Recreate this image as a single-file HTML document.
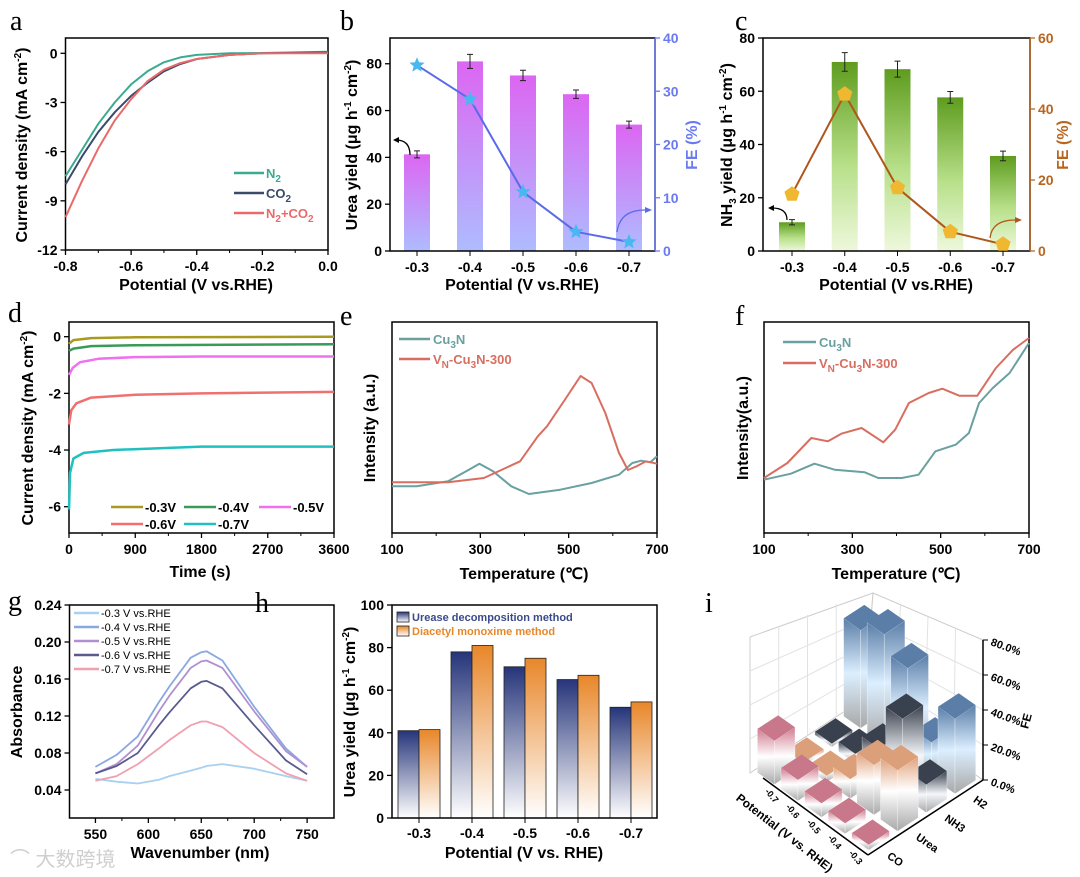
<!DOCTYPE html>
<html><head><meta charset="utf-8"><style>
html,body{margin:0;padding:0;background:#fff;}
svg{display:block;font-family:"Liberation Sans",Arial,sans-serif;}
</style></head><body>
<svg id="fig" width="1080" height="877" viewBox="0 0 1080 877" xmlns="http://www.w3.org/2000/svg">
<defs>
<linearGradient id="gB" x1="0" y1="0" x2="0" y2="1"><stop offset="0" stop-color="#dc66f2"/><stop offset="1" stop-color="#aebcff"/></linearGradient>
<linearGradient id="gC" x1="0" y1="0" x2="0" y2="1"><stop offset="0" stop-color="#5e9c1e"/><stop offset="0.55" stop-color="#b8e08a"/><stop offset="1" stop-color="#eef8dc"/></linearGradient>
<linearGradient id="gU" x1="0" y1="0" x2="0" y2="1"><stop offset="0" stop-color="#26357a"/><stop offset="1" stop-color="#ffffff"/></linearGradient>
<linearGradient id="gD" x1="0" y1="0" x2="0" y2="1"><stop offset="0" stop-color="#e8872a"/><stop offset="1" stop-color="#ffffff"/></linearGradient>
<linearGradient id="sH2" x1="0" y1="0" x2="0" y2="1"><stop offset="0" stop-color="#5b7ea8"/><stop offset="0.5" stop-color="#dcefff"/><stop offset="1" stop-color="#a8a8a8"/></linearGradient>
<linearGradient id="sNH3" x1="0" y1="0" x2="0" y2="1"><stop offset="0" stop-color="#3a414e"/><stop offset="0.55" stop-color="#f4f6fa"/><stop offset="1" stop-color="#a8a8a8"/></linearGradient>
<linearGradient id="sUrea" x1="0" y1="0" x2="0" y2="1"><stop offset="0" stop-color="#e0a27c"/><stop offset="0.45" stop-color="#ffffff"/><stop offset="1" stop-color="#a8a8a8"/></linearGradient>
<linearGradient id="sCO" x1="0" y1="0" x2="0" y2="1"><stop offset="0" stop-color="#d07c90"/><stop offset="0.5" stop-color="#ffffff"/><stop offset="1" stop-color="#a8a8a8"/></linearGradient>
</defs>
</svg>
<script>
// ---------- data ----------
const aX=[-0.8,-0.75,-0.7,-0.65,-0.6,-0.55,-0.5,-0.45,-0.4,-0.3,-0.2,0];
const aN2=[-7.5,-5.9,-4.3,-3.0,-1.9,-1.1,-0.55,-0.25,-0.1,0,0.02,0.1];
const aCO2=[-8,-6.3,-4.8,-3.6,-2.6,-1.8,-1.1,-0.65,-0.35,-0.1,0,0.05];
const aMix=[-10,-7.8,-5.8,-4.1,-2.8,-1.7,-1.0,-0.6,-0.35,-0.1,0,0];
const pots=["-0.3","-0.4","-0.5","-0.6","-0.7"];
const ureaYield=[41.3,81,75,67,54];
const ureaErr=[1.5,3,2.2,1.8,1.5];
const ureaFE=[34.9,28.5,11.1,3.6,1.7];
const nh3Yield=[10.8,71,68.3,57.7,35.7];
const nh3Err=[1,3.5,3,2.2,1.8];
const nh3FE=[16,44.2,17.8,5.4,1.9];
const dT=[[0,60,300,900,3600],[0,60,300,900,3600],[0,50,150,400,900,1800,3600],[0,30,100,300,900,1800,3600],[0,15,60,200,600,1800,3600]];
const dJ=[[-0.25,-0.12,-0.05,-0.02,0],[-0.5,-0.42,-0.33,-0.3,-0.27],[-1.35,-1.1,-0.9,-0.78,-0.72,-0.7,-0.7],[-3.1,-2.6,-2.35,-2.15,-2.05,-2.0,-1.95],[-6.1,-4.8,-4.3,-4.1,-4.0,-3.88,-3.88]];
const dLabels=["-0.3V","-0.4V","-0.5V","-0.6V","-0.7V"];
const eCuT=[100,156,227,268,298,329,370,410,481,552,614,644,664,685,700];
const eCuI=[46.7,46.7,51.7,61.7,69.3,61.7,46.7,39,43.3,50,58.3,70,72.3,70.7,76.7];
const eVT=[100,227,308,390,430,451,491,527,552,583,614,634,654,675,700];
const eVI=[50.7,50.7,55,71.7,96.7,106.7,133,157,150,120,80,63,66.7,71.7,69.3];
const fCuT=[100,161,214,260,328,359,412,450,488,534,564,587,618,656,700];
const fCuI=[53.3,59.3,69.3,63.3,60.7,55,55,58.3,81.7,88.3,100,130,145,160,190];
const fVT=[100,153,207,245,275,321,370,397,428,473,504,542,583,625,664,700];
const fVI=[55,70,95,91.7,99.3,105,90.7,103.3,130,140,144.3,137.3,137.3,165,183.3,195];
const gW=[550,570,590,610,620,640,650,655,670,700,730,750];
const gA=[
 [0.052,0.049,0.047,0.051,0.055,0.061,0.064,0.066,0.068,0.063,0.055,0.050],
 [0.065,0.078,0.098,0.135,0.152,0.183,0.189,0.190,0.180,0.130,0.085,0.065],
 [0.058,0.068,0.088,0.125,0.142,0.172,0.179,0.180,0.172,0.125,0.082,0.065],
 [0.058,0.066,0.080,0.110,0.124,0.150,0.157,0.158,0.150,0.110,0.072,0.057],
 [0.050,0.055,0.068,0.085,0.094,0.110,0.114,0.114,0.108,0.080,0.058,0.050]];
const gLabels=["-0.3 V vs.RHE","-0.4 V vs.RHE","-0.5 V vs.RHE","-0.6 V vs.RHE","-0.7 V vs.RHE"];
const hUrease=[41,78,71,65,52];
const hDiacetyl=[41.5,81,75,67,54.5];
const iSpecies=["CO","Urea","NH3","H2"];
const iCO=[3,6,8,12,25];
const iUrea=[34.9,28.5,11.1,3.6,1.7];
const iNH3=[16,44.2,17.8,5.4,1.9];
const iH2=[43,20,53,63,56];

// ---------- helpers ----------
const NS='http://www.w3.org/2000/svg';
const svg=document.getElementById('fig');
function mk(tag,a,name,parent){
  const e=document.createElementNS(NS,tag);
  for(const k in a) e.setAttribute(k,a[k]);
  
  
  (parent||svg).appendChild(e);return e;
}
function tx(x,y,html,name,o){
  o=o||{};
  const e=mk('text',{x:x,y:y,'font-size':o.fs||14,'font-weight':o.fw||'bold','text-anchor':o.anchor||'middle',fill:o.fill||'#000','font-family':o.ff||'"Liberation Sans",Arial,sans-serif'},name);
  if(o.rot!==undefined) e.setAttribute('transform','rotate('+o.rot+' '+x+' '+y+')');
  e.innerHTML=html;return e;
}
function lin(d0,d1,r0,r1){return v=>r0+(v-d0)*(r1-r0)/(d1-d0);}
function frame(x0,y0,x1,y1,name){mk('rect',{x:x0,y:y0,width:x1-x0,height:y1-y0,fill:'none',stroke:'#000','stroke-width':1.5},name);}
function xt(sx,vals,labels,y,name,minor){
  vals.forEach((v,i)=>{mk('line',{x1:sx(v),x2:sx(v),y1:y,y2:y+5,stroke:'#000','stroke-width':1.3},name+'-tick');
    tx(sx(v),y+21,labels[i],name+'-label');});
  (minor||[]).forEach(v=>mk('line',{x1:sx(v),x2:sx(v),y1:y,y2:y+3,stroke:'#000','stroke-width':1},name+'-minor-tick'));
}
function yt(sy,vals,labels,x,name,right,col){
  vals.forEach((v,i)=>{mk('line',{x1:x,x2:right?x+5:x-5,y1:sy(v),y2:sy(v),stroke:col||'#000','stroke-width':1.3},name+'-tick');
    tx(right?x+8:x-8,sy(v)+5,labels[i],name+'-label',{anchor:right?'start':'end',fill:col||'#000'});});
}
function path(xs,ys,sx,sy,color,name,w){
  const d=xs.map((v,i)=>(i?'L':'M')+sx(v).toFixed(1)+' '+sy(ys[i]).toFixed(1)).join(' ');
  return mk('path',{d:d,fill:'none',stroke:color,'stroke-width':w||2,'stroke-linejoin':'round'},name);
}
function letter(x,y,s){tx(x,y,s,'panel-label-'+s,{fs:28,fw:'normal',anchor:'start',ff:'"Liberation Serif",serif'});}
function star(cx,cy,r,col,name){let p=[];for(let k=0;k<10;k++){const a=-Math.PI/2+k*Math.PI/5,rr=k%2?r*0.45:r;p.push((cx+rr*Math.cos(a)).toFixed(1)+','+(cy+rr*Math.sin(a)).toFixed(1));}mk('polygon',{points:p.join(' '),fill:col},name);}
function pent(cx,cy,r,col,name){let p=[];for(let k=0;k<5;k++){const a=-Math.PI/2+k*2*Math.PI/5;p.push((cx+r*Math.cos(a)).toFixed(1)+','+(cy+r*Math.sin(a)).toFixed(1));}mk('polygon',{points:p.join(' '),fill:col},name);}
const sub=(s)=>'<tspan baseline-shift="-4" font-size="10">'+s+'</tspan>';
const sup=(s)=>'<tspan baseline-shift="6" font-size="10">'+s+'</tspan>';

// ---------- panel a ----------
letter(10,30,'a');
{const sx=lin(-0.8,0,65.5,328),sy=lin(0,-12,53.3,250);
 frame(65.5,38,328,250,'panel-a-plot-frame');
 xt(sx,[-0.8,-0.6,-0.4,-0.2,0],['-0.8','-0.6','-0.4','-0.2','0.0'],250,'a-x-axis',[-0.7,-0.5,-0.3,-0.1]);
 yt(sy,[0,-3,-6,-9,-12],['0','-3','-6','-9','-12'],65.5,'a-y-axis');
 path(aX,aN2,sx,sy,'#3aaa90','a-line-n2');
 path(aX,aCO2,sx,sy,'#3a4a6a','a-line-co2');
 path(aX,aMix,sx,sy,'#ea6a6a','a-line-n2-co2');
 [['#3aaa90','N'+sub('2')],['#3a4a6a','CO'+sub('2')],['#ea6a6a','N'+sub('2')+'+CO'+sub('2')]].forEach((l,i)=>{
   mk('line',{x1:234,x2:264,y1:173+i*20,y2:173+i*20,stroke:l[0],'stroke-width':2.5},'a-legend-line');
   tx(266,178+i*20,l[1],'a-legend-text',{anchor:'start',fill:l[0],fs:13});});
 tx(196,290,'Potential (V vs.RHE)','a-x-axis-title',{fs:16});
 tx(27,145,'Current density (mA cm'+sup('-2')+')','a-y-axis-title',{fs:16,rot:-90});
}
// ---------- panel b ----------
letter(340,30,'b');
{const x0=390,x1=655,sx=i=>417+i*53,sy=lin(0,91,251,38),sr=lin(0,40,251,38);
 ureaYield.forEach((v,i)=>{mk('rect',{x:sx(i)-13,y:sy(v),width:26,height:251-sy(v),fill:'url(#gB)'},'b-bar-'+pots[i]);
  mk('path',{d:`M${sx(i)} ${sy(v+ureaErr[i])}V${sy(v-ureaErr[i])}M${sx(i)-3} ${sy(v+ureaErr[i])}h6M${sx(i)-3} ${sy(v-ureaErr[i])}h6`,stroke:'#222','stroke-width':1},'b-error-bar');});
 frame(x0,38,x1,251,'panel-b-plot-frame');
 mk('line',{x1:x1,x2:x1,y1:38,y2:251,stroke:'#6a7af0','stroke-width':1.5},'b-right-axis-line');
 pots.forEach((p,i)=>{mk('line',{x1:sx(i),x2:sx(i),y1:251,y2:256,stroke:'#000'},'b-x-tick');tx(sx(i),272,p,'b-x-label');});
 yt(sy,[0,20,40,60,80],['0','20','40','60','80'],x0,'b-y-axis');
 yt(sr,[0,10,20,30,40],['0','10','20','30','40'],x1,'b-right-axis',true,'#6a7af0');
 path(ureaFE.map((v,i)=>i),ureaFE,sx,sr,'#5a6ae8','b-fe-line',2);
 ureaFE.forEach((v,i)=>star(sx(i),sr(v),8,'#4ab8f0','b-fe-marker'));
 mk('path',{d:'M410 155 Q410 140 396 140',fill:'none',stroke:'#000','stroke-width':1.3},'b-arrow-left');
 mk('polygon',{points:'393,140 399,137 399,143',fill:'#000'},'b-arrow-head');
 mk('path',{d:'M617 232 Q620 210 645 210',fill:'none',stroke:'#5a6ae8','stroke-width':1.3},'b-arrow-right');
 mk('polygon',{points:'652,210 645,207 645,213',fill:'#5a6ae8'},'b-arrow-head');
 tx(522,290,'Potential (V vs.RHE)','b-x-axis-title',{fs:16});
 tx(357,145,'Urea yield (μg h'+sup('-1')+' cm'+sup('-2')+')','b-y-axis-title',{fs:16,rot:-90});
 tx(697,145,'FE (%)','b-right-axis-title',{fs:16,rot:-90,fill:'#6a7af0'});
}
// ---------- panel c ----------
letter(735,30,'c');
{const x0=763,x1=1030,sx=i=>792+i*52.75,sy=lin(0,80,251,38),sr=lin(0,60,251,38);
 nh3Yield.forEach((v,i)=>{mk('rect',{x:sx(i)-13,y:sy(v),width:26,height:251-sy(v),fill:'url(#gC)'},'c-bar-'+pots[i]);
  mk('path',{d:`M${sx(i)} ${sy(v+nh3Err[i])}V${sy(v-nh3Err[i])}M${sx(i)-3} ${sy(v+nh3Err[i])}h6M${sx(i)-3} ${sy(v-nh3Err[i])}h6`,stroke:'#222','stroke-width':1},'c-error-bar');});
 frame(x0,38,x1,251,'panel-c-plot-frame');
 mk('line',{x1:x1,x2:x1,y1:38,y2:251,stroke:'#b8661f','stroke-width':1.5},'c-right-axis-line');
 pots.forEach((p,i)=>{mk('line',{x1:sx(i),x2:sx(i),y1:251,y2:256,stroke:'#000'},'c-x-tick');tx(sx(i),272,p,'c-x-label');});
 yt(sy,[0,20,40,60,80],['0','20','40','60','80'],x0,'c-y-axis');
 yt(sr,[0,20,40,60],['0','20','40','60'],x1,'c-right-axis',true,'#b8661f');
 path(nh3FE.map((v,i)=>i),nh3FE,sx,sr,'#b0561a','c-fe-line',2);
 nh3FE.forEach((v,i)=>pent(sx(i),sr(v),8,'#f0b830','c-fe-marker'));
 mk('path',{d:'M787 220 Q787 208 772 208',fill:'none',stroke:'#000','stroke-width':1.3},'c-arrow-left');
 mk('polygon',{points:'768,208 774,205 774,211',fill:'#000'},'c-arrow-head');
 mk('path',{d:'M990 238 Q992 220 1015 220',fill:'none',stroke:'#b0561a','stroke-width':1.3},'c-arrow-right');
 mk('polygon',{points:'1022,220 1015,217 1015,223',fill:'#b0561a'},'c-arrow-head');
 tx(896,290,'Potential (V vs.RHE)','c-x-axis-title',{fs:16});
 tx(732,145,'NH'+sub('3')+' yield (μg h'+sup('-1')+' cm'+sup('-2')+')','c-y-axis-title',{fs:16,rot:-90});
 tx(1068,145,'FE (%)','c-right-axis-title',{fs:16,rot:-90,fill:'#b8661f'});
}
// ---------- panel d ----------
letter(8,322,'d');
{const sx=lin(0,3600,69,334),sy=lin(0,-6,336.7,506.7);
 const cols=['#a89a20','#3a9a5a','#f070f0','#f07070','#20c0c0'];
 frame(69,322,334,533,'panel-d-plot-frame');
 xt(sx,[0,900,1800,2700,3600],['0','900','1800','2700','3600'],533,'d-x-axis',[450,1350,2250,3150]);
 yt(sy,[0,-2,-4,-6],['0','-2','-4','-6'],69,'d-y-axis');
 dJ.forEach((s,k)=>path(dT[k],s,sx,sy,cols[k],'d-line-'+dLabels[k],2.5));
 const lp=[[111,507],[184,507],[259,507],[111,524],[184,524]];
 lp.forEach((p,k)=>{mk('line',{x1:p[0],x2:p[0]+32,y1:p[1],y2:p[1],stroke:cols[k],'stroke-width':2.5},'d-legend-line');
  tx(p[0]+34,p[1]+5,dLabels[k],'d-legend-text',{anchor:'start',fs:13});});
 tx(200,577,'Time (s)','d-x-axis-title',{fs:16});
 tx(33,428,'Current density (mA cm'+sup('-2')+')','d-y-axis-title',{fs:16,rot:-90});
}
// ---------- panel e ----------
letter(340,325,'e');
{const sx=lin(100,700,392,657),sy=lin(0,211,533,322);
 frame(392,322,657,533,'panel-e-plot-frame');
 xt(sx,[100,300,500,700],['100','300','500','700'],533,'e-x-axis',[200,400,600]);
 path(eCuT,eCuI,sx,sy,'#6aa0a0','e-line-cu3n');
 path(eVT,eVI,sx,sy,'#d86e60','e-line-vn-cu3n-300');
 mk('line',{x1:399,x2:430,y1:339,y2:339,stroke:'#6aa0a0','stroke-width':2.5},'e-legend-line');
 tx(433,344,'Cu'+sub('3')+'N','e-legend-text',{anchor:'start',fill:'#6aa0a0',fs:13});
 mk('line',{x1:399,x2:430,y1:359,y2:359,stroke:'#d86e60','stroke-width':2.5},'e-legend-line');
 tx(433,364,'V'+sub('N')+'-Cu'+sub('3')+'N-300','e-legend-text',{anchor:'start',fill:'#d86e60',fs:13});
 tx(524,579,'Temperature (℃)','e-x-axis-title',{fs:16});
 tx(375,428,'Intensity (a.u.)','e-y-axis-title',{fs:16,rot:-90});
}
// ---------- panel f ----------
letter(735,325,'f');
{const sx=lin(100,700,764,1029),sy=lin(0,211,533,322);
 frame(764,322,1029,533,'panel-f-plot-frame');
 xt(sx,[100,300,500,700],['100','300','500','700'],533,'f-x-axis',[200,400,600]);
 path(fCuT,fCuI,sx,sy,'#6aa0a0','f-line-cu3n');
 path(fVT,fVI,sx,sy,'#d86e60','f-line-vn-cu3n-300');
 mk('line',{x1:783,x2:816,y1:342,y2:342,stroke:'#6aa0a0','stroke-width':2.5},'f-legend-line');
 tx(819,347,'Cu'+sub('3')+'N','f-legend-text',{anchor:'start',fill:'#6aa0a0',fs:13});
 mk('line',{x1:783,x2:816,y1:363,y2:363,stroke:'#d86e60','stroke-width':2.5},'f-legend-line');
 tx(819,368,'V'+sub('N')+'-Cu'+sub('3')+'N-300','f-legend-text',{anchor:'start',fill:'#d86e60',fs:13});
 tx(896,579,'Temperature (℃)','f-x-axis-title',{fs:16});
 tx(748,428,'Intensity(a.u.)','f-y-axis-title',{fs:16,rot:-90});
}
// ---------- panel g ----------
letter(8,610,'g');
{const sx=lin(525.5,775.4,69.5,334),sy=lin(0.24,0.04,605,790);
 const cols=['#a8d0f0','#8aa8e0','#b090d0','#5a5a90','#f0a0b0'];
 frame(69.5,605,334,818,'panel-g-plot-frame');
 xt(sx,[550,600,650,700,750],['550','600','650','700','750'],818,'g-x-axis',[575,625,675,725]);
 yt(sy,[0.04,0.08,0.12,0.16,0.20,0.24],['0.04','0.08','0.12','0.16','0.20','0.24'],69.5,'g-y-axis');
 gA.forEach((s,k)=>path(gW,s,sx,sy,cols[k],'g-line-'+pots[k],1.8));
 gLabels.forEach((l,k)=>{mk('line',{x1:74,x2:99,y1:613+k*14,y2:613+k*14,stroke:cols[k],'stroke-width':2.5},'g-legend-line');
  tx(101,617+k*14,l,'g-legend-text',{anchor:'start',fs:11,fw:'normal'});});
 tx(200,858,'Wavenumber (nm)','g-x-axis-title',{fs:16});
 tx(22,712,'Absorbance','g-y-axis-title',{fs:16,rot:-90});
}
// ---------- panel h ----------
letter(255,612,'h');
{const sx=i=>419+i*53,sy=lin(0,100,818,605);
 hUrease.forEach((v,i)=>mk('rect',{x:sx(i)-21,y:sy(v),width:21,height:818-sy(v),fill:'url(#gU)',stroke:'#222','stroke-width':0.8},'h-bar-urease-'+pots[i]));
 hDiacetyl.forEach((v,i)=>mk('rect',{x:sx(i),y:sy(v),width:21,height:818-sy(v),fill:'url(#gD)',stroke:'#222','stroke-width':0.8},'h-bar-diacetyl-'+pots[i]));
 frame(392,605,657,818,'panel-h-plot-frame');
 pots.forEach((p,i)=>{mk('line',{x1:sx(i),x2:sx(i),y1:818,y2:823,stroke:'#000'},'h-x-tick');tx(sx(i),838,p,'h-x-label');});
 yt(sy,[0,20,40,60,80,100],['0','20','40','60','80','100'],392,'h-y-axis');
 mk('rect',{x:397,y:612,width:12,height:10,fill:'url(#gU)',stroke:'#222','stroke-width':0.8},'h-legend-swatch-urease');
 tx(412,621,'Urease decomposition method','h-legend-text',{anchor:'start',fs:11,fill:'#3a4a8a'});
 mk('rect',{x:397,y:626,width:12,height:10,fill:'url(#gD)',stroke:'#222','stroke-width':0.8},'h-legend-swatch-diacetyl');
 tx(412,635,'Diacetyl monoxime method','h-legend-text',{anchor:'start',fs:11,fill:'#e8872a'});
 tx(524,858,'Potential (V vs. RHE)','h-x-axis-title',{fs:16});
 tx(355,712,'Urea yield (μg h'+sup('-1')+' cm'+sup('-2')+')','h-y-axis-title',{fs:16,rot:-90});
}
// ---------- panel i (3D bars) ----------
tx(705,612,'i','panel-label-i',{fs:28,fw:'normal',anchor:'start',ff:'"Liberation Serif",serif'});
{const O=[870.6,837.4],PV=[-23.6,-16.4],SV=[28.75,-18.75],ZS=1.75;
 const P=(i,j,z)=>[O[0]+i*PV[0]+j*SV[0],O[1]+i*PV[1]+j*SV[1]-z*ZS];
 const pts=a=>a.map(p=>p[0].toFixed(1)+','+p[1].toFixed(1)).join(' ');
 mk('polygon',{points:'750,773 865,698 873,593 750,637',fill:'#fff',stroke:'#ccc','stroke-width':1},'i-back-wall-left');
 mk('polygon',{points:'865,698 983,780 983,640 873,593',fill:'#fff',stroke:'#ccc','stroke-width':1},'i-back-wall-right');
 for(let k=1;k<4;k++){const t=k/4;
  mk('line',{x1:750+115*t,y1:637-44*t,x2:750+115*t,y2:773-75*t,stroke:'#e2e2e2'},'i-grid-line');
  mk('line',{x1:873+110*t,y1:593+47*t,x2:865+118*t,y2:698+82*t,stroke:'#e2e2e2'},'i-grid-line');
  mk('line',{x1:750,y1:773-136*t,x2:865+2*t,y2:698-105*t,stroke:'#e2e2e2'},'i-grid-line');
  mk('line',{x1:867,y1:698-105*t,x2:983,y2:780-140*t,stroke:'#e2e2e2'},'i-grid-line');}
 const series=[[iCO,'CO','#c8788a'],[iUrea,'Urea','#dba07a'],[iNH3,'NH3','#3a414e'],[iH2,'H2','#5b7ea8']];
 const bars=[];
 series.forEach((s,j)=>s[0].forEach((v,i)=>bars.push({i:i,j:j,v:v,name:s[1],top:s[2]})));
 bars.sort((a,b)=>(b.i+b.j)-(a.i+a.j)||(b.i-a.i));
 const h=0.36;
 bars.forEach(b=>{const i=b.i,j=b.j,z=b.v;
  const A=P(i-h,j-h,0),B=P(i-h,j+h,0),C=P(i+h,j-h,0);
  const At=P(i-h,j-h,z),Bt=P(i-h,j+h,z),Ct=P(i+h,j-h,z),Dt=P(i+h,j+h,z);
  mk('polygon',{points:pts([C,A,At,Ct]),fill:'url(#s'+b.name+')',stroke:'#fff','stroke-width':0.3},'i-bar-side-'+b.name+'-'+pots[i]);
  mk('polygon',{points:pts([A,B,Bt,At]),fill:'url(#s'+b.name+')',stroke:'#fff','stroke-width':0.3},'i-bar-front-'+b.name+'-'+pots[i]);
  mk('polygon',{points:pts([At,Bt,Dt,Ct]),fill:b.top},'i-bar-top-'+b.name+'-'+pots[i]);});
 mk('line',{x1:763,y1:778,x2:868,y2:855,stroke:'#000','stroke-width':1.5},'i-potential-axis');
 mk('line',{x1:868,y1:855,x2:983,y2:780,stroke:'#000','stroke-width':1.5},'i-species-axis');
 mk('line',{x1:983,y1:780,x2:983,y2:640,stroke:'#000','stroke-width':1.5},'i-fe-axis');
 [0,20,40,60,80].forEach(v=>{const y=780-v*1.75;
  mk('line',{x1:983,x2:988,y1:y,y2:y,stroke:'#000'},'i-fe-tick');
  tx(990,y+5,v.toFixed(1)+'%','i-fe-label',{anchor:'start',fs:11,rot:20});});
 tx(1030,722,'FE','i-fe-title',{fs:12,rot:-75});
 pots.forEach((p,i)=>{const xx=868-(i+0.5)*21,yy=855-(i+0.5)*15.4;
  tx(xx-4,yy+12,p,'i-potential-label',{fs:9,rot:50});});
 iSpecies.forEach((s,j)=>{const xx=868+(j+0.5)*28.75,yy=855-(j+0.5)*18.75;
  tx(xx+4,yy+12,s,'i-species-label',{fs:11,anchor:'start',rot:35});});
 tx(782,836,'Potential (V vs. RHE)','i-potential-axis-title',{fs:12,rot:38});
}
tx(10,866,'⌒ 大数跨境','watermark',{anchor:'start',fs:20,fill:'#cfcfcf',fw:'normal',ff:'"Liberation Sans","Noto Sans CJK SC",sans-serif'});
</script>
</body></html>
